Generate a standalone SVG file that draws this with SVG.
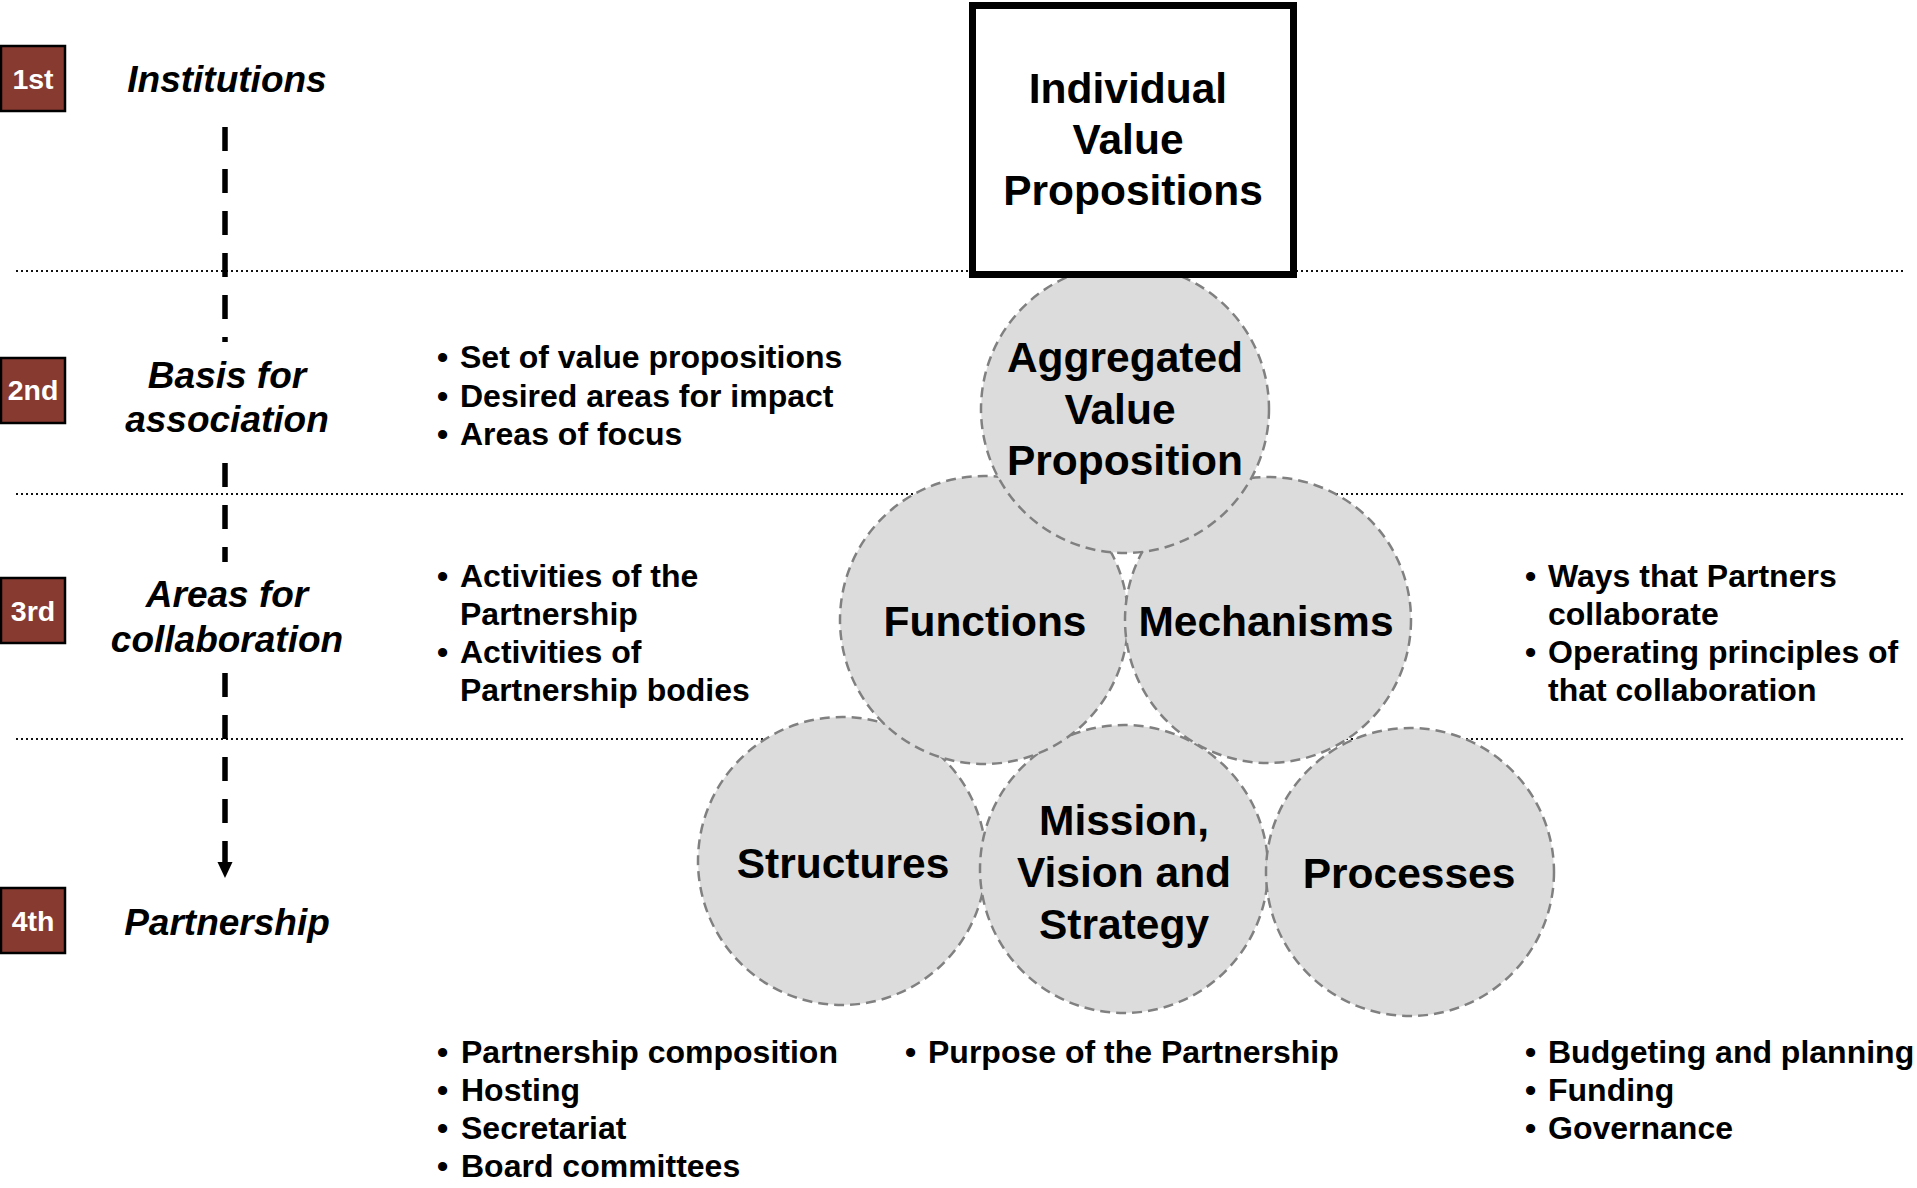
<svg xmlns="http://www.w3.org/2000/svg" width="1917" height="1188" viewBox="0 0 1917 1188">
<defs>
<style>
.dot{stroke:#111;stroke-width:2;stroke-dasharray:2 3;fill:none}
.badge rect{fill:#873a30;stroke:#000;stroke-width:2.5}
.badge text{fill:#fff;font-family:"Liberation Sans",Arial,sans-serif;font-weight:bold;font-size:28.5px;text-anchor:middle}
.lbl text{fill:#000;font-family:"Liberation Sans",Arial,sans-serif;font-weight:bold;font-style:italic;font-size:37px;text-anchor:middle}
.lbl rect{fill:#fff}
.circ circle{fill:#dcdcdc;stroke:#808080;stroke-width:2.5;stroke-dasharray:10 6}
.circ text, .box text{fill:#000;font-family:"Liberation Sans",Arial,sans-serif;font-weight:bold;font-size:42.5px;text-anchor:middle}
.list text{fill:#000;font-family:"Liberation Sans",Arial,sans-serif;font-weight:bold;font-size:32px}
</style>
<marker id="arr" markerUnits="userSpaceOnUse" markerWidth="16" markerHeight="17" viewBox="0 0 17 16" refX="0" refY="8" orient="auto">
<path d="M0,0 L17,8 L0,16 z" fill="#000"/>
</marker>
</defs>
<rect width="1917" height="1188" fill="#fff"/>

<g id="dividers">
<line class="dot" x1="16" y1="271" x2="1905" y2="271"/>
<line class="dot" x1="16" y1="494" x2="1905" y2="494"/>
<line class="dot" x1="16" y1="739" x2="1905" y2="739"/>
</g>

<g id="connectors">
<line x1="225" y1="127" x2="225" y2="862" stroke="#000" stroke-width="5.5" stroke-dasharray="24 18" marker-end="url(#arr)"/>
</g>

<g id="badge-1st" class="badge"><rect x="1" y="46" width="64" height="65"/><text x="33" y="89">1st</text></g>
<g id="badge-2nd" class="badge"><rect x="1" y="358" width="64" height="65"/><text x="33" y="400">2nd</text></g>
<g id="badge-3rd" class="badge"><rect x="1" y="578" width="64" height="65"/><text x="33" y="621">3rd</text></g>
<g id="badge-4th" class="badge"><rect x="1" y="888" width="64" height="65"/><text x="33" y="931">4th</text></g>

<g id="label-institutions" class="lbl"><text x="227" y="92">Institutions</text></g>
<g id="label-basis" class="lbl"><rect x="110" y="342" width="235" height="121"/><text x="227" y="388">Basis for</text><text x="227" y="432">association</text></g>
<g id="label-areas" class="lbl"><rect x="100" y="562" width="255" height="111"/><text x="227" y="607">Areas for</text><text x="227" y="652">collaboration</text></g>
<g id="label-partnership" class="lbl"><text x="227" y="935">Partnership</text></g>

<g id="circle-structures" class="circ"><circle cx="842" cy="861" r="144"/><text x="843" y="878">Structures</text></g>
<g id="circle-mission" class="circ"><circle cx="1124" cy="869" r="144"/><text x="1124" y="835">Mission,</text><text x="1124" y="887">Vision and</text><text x="1124" y="939">Strategy</text></g>
<g id="circle-processes" class="circ"><circle cx="1410" cy="872" r="144"/><text x="1409" y="888">Processes</text></g>
<g id="circle-functions" class="circ"><circle cx="984" cy="620" r="144"/><text x="985" y="636">Functions</text></g>
<g id="circle-mechanisms" class="circ"><circle cx="1268" cy="620" r="143"/><text x="1266" y="636">Mechanisms</text></g>
<g id="circle-aggregated" class="circ"><circle cx="1125" cy="409" r="144"/><text x="1125" y="372">Aggregated</text><text x="1120" y="424">Value</text><text x="1125" y="475">Proposition</text></g>

<g id="box-individual" class="box">
<rect x="972.5" y="5.5" width="321" height="269" fill="#fff" stroke="#000" stroke-width="7"/>
<text x="1128" y="103">Individual</text><text x="1128" y="154">Value</text><text x="1133" y="205">Propositions</text>
</g>

<g id="list-basis" class="list">
<text x="437" y="368">•</text><text x="460" y="368">Set of value propositions</text>
<text x="437" y="407">•</text><text x="460" y="407">Desired areas for impact</text>
<text x="437" y="445">•</text><text x="460" y="445">Areas of focus</text>
</g>
<g id="list-functions" class="list">
<text x="437" y="587">•</text><text x="460" y="587">Activities of the</text>
<text x="460" y="625">Partnership</text>
<text x="437" y="663">•</text><text x="460" y="663">Activities of</text>
<text x="460" y="701">Partnership bodies</text>
</g>
<g id="list-mechanisms" class="list">
<text x="1525" y="587">•</text><text x="1548" y="587">Ways that Partners</text>
<text x="1548" y="625">collaborate</text>
<text x="1525" y="663">•</text><text x="1548" y="663">Operating principles of</text>
<text x="1548" y="701">that collaboration</text>
</g>
<g id="list-structures" class="list">
<text x="437" y="1063">•</text><text x="461" y="1063">Partnership composition</text>
<text x="437" y="1101">•</text><text x="461" y="1101">Hosting</text>
<text x="437" y="1139">•</text><text x="461" y="1139">Secretariat</text>
<text x="437" y="1177">•</text><text x="461" y="1177">Board committees</text>
</g>
<g id="list-mission" class="list">
<text x="905" y="1063">•</text><text x="928" y="1063">Purpose of the Partnership</text>
</g>
<g id="list-processes" class="list">
<text x="1525" y="1063">•</text><text x="1548" y="1063">Budgeting and planning</text>
<text x="1525" y="1101">•</text><text x="1548" y="1101">Funding</text>
<text x="1525" y="1139">•</text><text x="1548" y="1139">Governance</text>
</g>
</svg>
